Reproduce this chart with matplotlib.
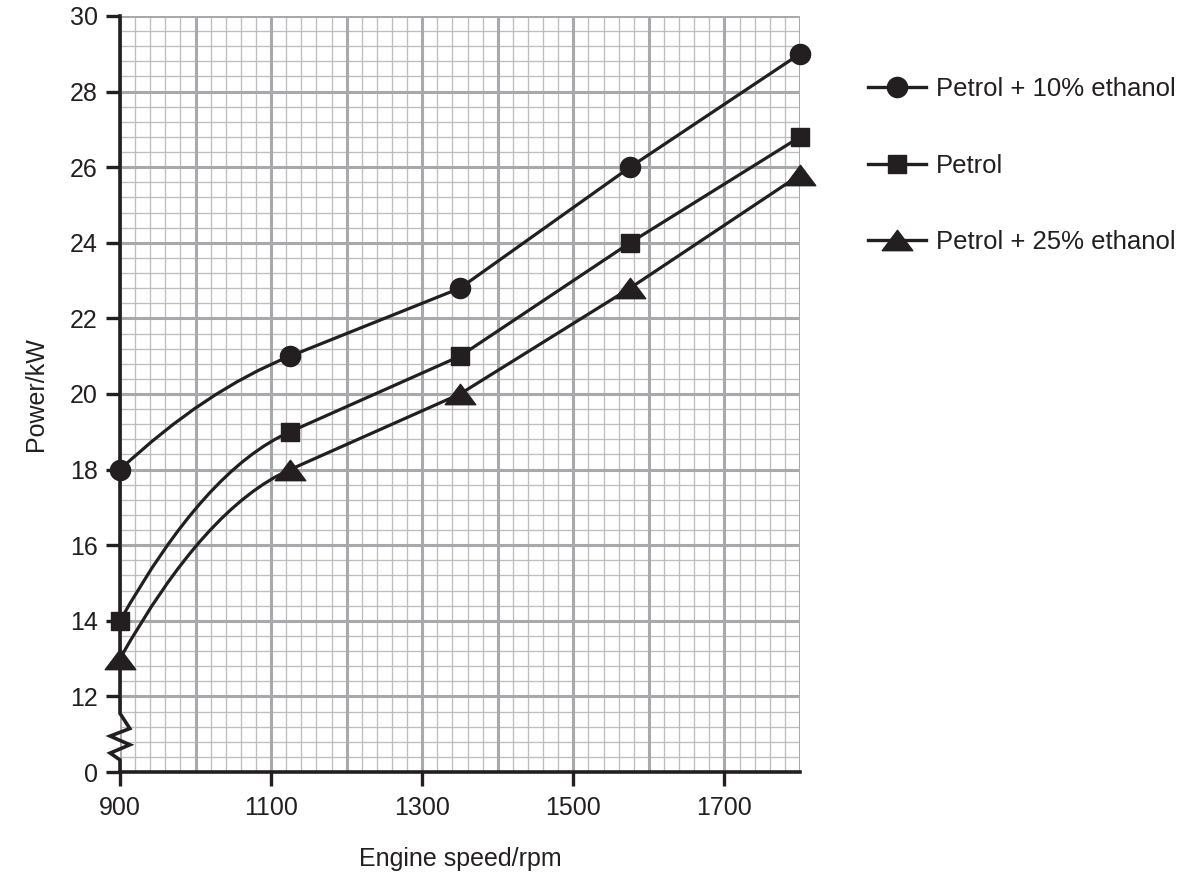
import numpy as np
import matplotlib.pyplot as plt
from matplotlib.path import Path
from matplotlib.patches import PathPatch
from matplotlib.lines import Line2D

plt.rcParams['font.family'] = ['Liberation Sans', 'DejaVu Sans']

# data
speed = [900, 1125, 1350, 1575, 1800]
power_e10 = [18, 21, 22.8, 26, 29]
power_petrol = [14, 19, 21, 24, 26.8]
power_e25 = [13, 18, 20, 22.8, 25.8]

series_labels = ['Petrol + 10% ethanol', 'Petrol', 'Petrol + 25% ethanol']

xtick_vals = [900, 1100, 1300, 1500, 1700]
ytick_vals = [10, 12, 14, 16, 18, 20, 22, 24, 26, 28, 30]
ytick_labels = ['0', '12', '14', '16', '18', '20', '22', '24', '26', '28', '30']

ink = '#231f20'
grid_major = '#a7a9ac'
grid_minor = '#bcbec0'

# wide flat triangle like the original
tri = Path([(-1.5, -1), (1.5, -1), (0, 1), (-1.5, -1)],
           [Path.MOVETO, Path.LINETO, Path.LINETO, Path.CLOSEPOLY])
series_markers = ['o', 's', tri]
marker_sizes = [14.5, 13, 22]


def hand_path(xs, ys):
    # first stretch drawn as a curve that runs into the next segment,
    # the rest joined point to point
    p0 = np.array([xs[0], ys[0]], float)
    p1 = np.array([xs[1], ys[1]], float)
    p2 = np.array([xs[2], ys[2]], float)
    ctrl = p1 - 0.5 * (p2 - p1)
    verts = [p0, ctrl, p1] + [(x, y) for x, y in zip(xs[2:], ys[2:])]
    codes = [Path.MOVETO, Path.CURVE3, Path.CURVE3] + [Path.LINETO] * (len(xs) - 2)
    return Path(verts, codes)


fig = plt.figure(figsize=(11.93, 8.74), dpi=100)
ax = fig.add_axes([120 / 1193, 1 - 772 / 874, 680 / 1193, 756 / 874])
ax.set_xlim(900, 1800)
ax.set_ylim(10, 30)

# graph paper
for x in np.arange(900, 1801, 20):
    major = (x - 900) % 100 == 0
    ax.axvline(x, color=grid_major if major else grid_minor,
               lw=2.2 if major else 0.95, zorder=1 if major else 0)
for y in np.arange(10, 30.01, 0.4):
    major = abs((y - 10) / 2 - round((y - 10) / 2)) < 1e-6
    ax.axhline(y, color=grid_major if major else grid_minor,
               lw=2.2 if major else 0.95, zorder=1 if major else 0)

for vals, mk, ms in zip([power_e10, power_petrol, power_e25], series_markers, marker_sizes):
    ax.add_patch(PathPatch(hand_path(speed, vals), fill=False, ec=ink, lw=2.3, zorder=3))
    ax.plot(speed, vals, ls='none', marker=mk, ms=ms, color=ink, zorder=4, clip_on=False)

# axes
for s in ['top', 'right', 'left']:
    ax.spines[s].set_visible(False)
ax.spines['bottom'].set_linewidth(2.6)
ax.spines['bottom'].set_color(ink)
ax.spines['bottom'].set_zorder(5)

# left axis with break zigzag between 0 and 12
zx = 13
ax.plot([900, 900, 900 + zx, 900 - zx, 900 + zx, 900 - zx, 900, 900],
        [30, 11.55, 11.15, 10.95, 10.72, 10.5, 10.32, 10],
        color=ink, lw=2.6, clip_on=False, zorder=5, solid_joinstyle='miter')

ax.set_xticks(xtick_vals)
ax.set_yticks(ytick_vals)
ax.set_yticklabels(ytick_labels)
ax.tick_params(axis='both', colors=ink, labelcolor=ink, labelsize=18, width=2.4)
ax.tick_params(axis='y', length=10, pad=6)
ax.tick_params(axis='x', length=10, pad=7)

ax.set_xlabel('Engine speed/rpm', fontsize=18, color=ink, labelpad=20)
ax.set_ylabel('Power/kW', fontsize=18, color=ink, labelpad=16)

handles = [Line2D([], [], color=ink, lw=2.4, marker=mk, ms=ms)
           for mk, ms in zip(series_markers, marker_sizes)]
fig.legend(handles, series_labels, loc='upper left', bbox_to_anchor=(868 / 1193, 1 - 77 / 874),
           frameon=False, fontsize=18.5, handlelength=2.26, handletextpad=0.37,
           labelspacing=2.05, borderpad=0, borderaxespad=0, labelcolor=ink)

fig.savefig('out.png', dpi=100)
